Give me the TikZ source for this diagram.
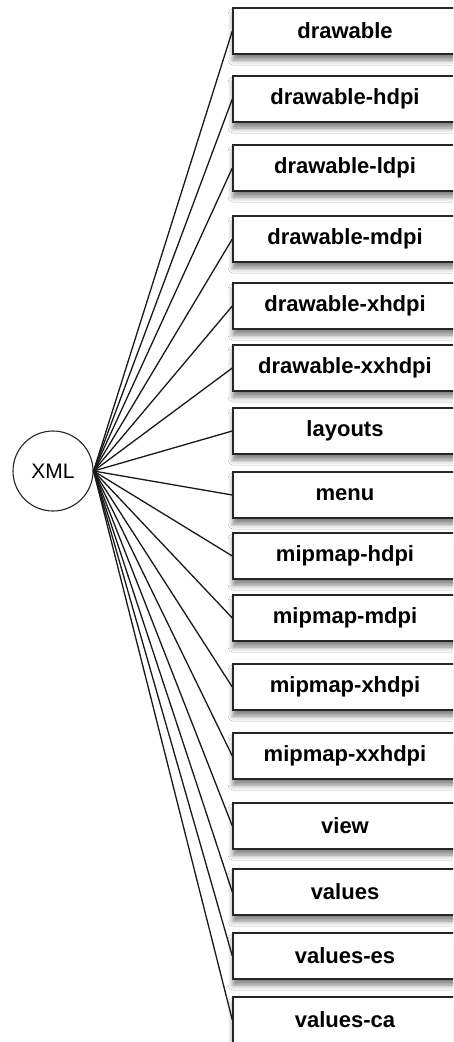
\documentclass[tikz,border=0pt]{standalone}
\usepackage{fontspec}
\setmainfont{Liberation Sans}
\usetikzlibrary{shadows.blur}
\begin{document}
\begin{tikzpicture}[x=1pt,y=-1pt,
  folder/.style={draw=black!85, line width=1.4pt, fill=white,
    minimum width=224pt, minimum height=46pt, inner sep=0pt,
    font=\fontsize{22}{26}\selectfont\bfseries,
    blur shadow={shadow xshift=0pt, shadow yshift=-6pt, shadow blur radius=5pt, shadow opacity=50}},
  root/.style={circle, draw=black!85, line width=1.1pt, minimum size=80pt, inner sep=0pt,
    font=\fontsize{21}{25}\selectfont},
  link/.style={draw=black!90, line width=1.3pt}]
\clip (0,0) rectangle (453,1042);
\fill[white] (0,0) rectangle (453,1042);
\node[root] (xml) at (53,471) {XML};
\foreach \i/\t/\lab in {1/8/drawable, 2/76/drawable-hdpi, 3/145/drawable-ldpi,
    4/216/drawable-mdpi, 5/283/drawable-xhdpi, 6/345/drawable-xxhdpi,
    7/408/layouts, 8/472/menu, 9/533/mipmap-hdpi, 10/595/mipmap-mdpi,
    11/664/mipmap-xhdpi, 12/733/mipmap-xxhdpi, 13/803/view,
    14/869/values, 15/933/values-es, 16/997/values-ca}{
  \node[folder] (b\i) at (345,\t+23) {\lab};
}
\foreach \i in {1,...,16}{
  \draw[link] (xml.east) -- (b\i.west);
}
\end{tikzpicture}
\end{document}
